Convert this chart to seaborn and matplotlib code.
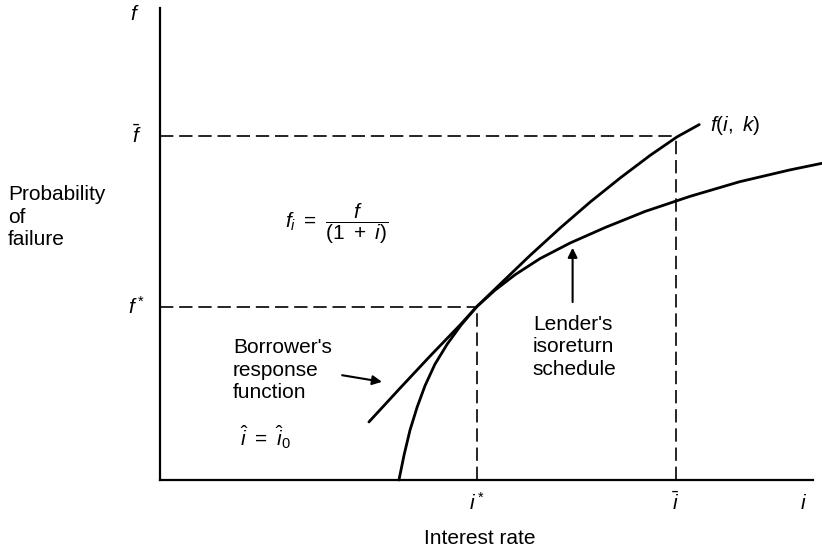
import matplotlib
matplotlib.use("Agg")
import matplotlib.pyplot as plt
import seaborn as sns
import pandas as pd

# ----------------------------
# Data (abstract units 0-10)
# ----------------------------
i_star = 4.85
i_bar = 7.90
f_star = 3.67
f_bar = 7.29

# Borrower's response function f(i, k)
borrower_i = [3.20, 3.68, 4.14, 4.60, 4.85, 5.21, 5.67, 6.13, 6.59, 7.05, 7.51, 7.92, 8.26]
borrower_f = [1.23, 1.95, 2.63, 3.29, 3.67, 4.15, 4.76, 5.34, 5.89, 6.40, 6.88, 7.27, 7.53]

# Lender's isoreturn schedule
lender_i = [3.66, 3.74, 3.83, 3.94, 4.06, 4.21, 4.40, 4.61, 4.85, 5.13,
            5.44, 5.82, 6.28, 6.82, 7.43, 8.12, 8.88, 9.65, 10.14]
lender_f = [0.00, 0.54, 1.06, 1.55, 2.00, 2.45, 2.88, 3.28, 3.67, 4.02,
            4.35, 4.69, 5.02, 5.35, 5.69, 6.01, 6.32, 6.57, 6.71]

borrower = pd.DataFrame({"i": borrower_i, "f": borrower_f})
lender = pd.DataFrame({"i": lender_i, "f": lender_f})

# ----------------------------
# Style
# ----------------------------
sns.set_style("white")
plt.rcParams["font.family"] = ["Liberation Sans", "DejaVu Sans"]
plt.rcParams["text.color"] = "black"
plt.rcParams["mathtext.fontset"] = "custom"
plt.rcParams["mathtext.rm"] = "Liberation Sans"
plt.rcParams["mathtext.it"] = "Liberation Sans:italic"

fig = plt.figure(figsize=(8.22, 5.48), dpi=100)
ax = fig.add_axes([160 / 822, 68 / 548, 662 / 822, 472 / 548])
ax.set_xlim(0, 10.14)
ax.set_ylim(0, 10)

# curves
sns.lineplot(data=borrower, x="i", y="f", color="black", lw=2.0, ax=ax,
             estimator=None, sort=False, clip_on=False)
sns.lineplot(data=lender, x="i", y="f", color="black", lw=2.0, ax=ax,
             estimator=None, sort=False, clip_on=False)

# dashed guide lines
dash = (0, (8, 3.5))
ax.plot([0, i_bar], [f_bar, f_bar], color="black", lw=1.2, ls=dash)
ax.plot([i_bar, i_bar], [0, f_bar], color="black", lw=1.2, ls=dash)
ax.plot([0, i_star], [f_star, f_star], color="black", lw=1.2, ls=dash)
ax.plot([i_star, i_star], [0, f_star], color="black", lw=1.2, ls=dash)

# axes look
sns.despine(ax=ax)
ax.spines["bottom"].set_bounds(0, 10)
for s in ["left", "bottom"]:
    ax.spines[s].set_linewidth(1.6)
    ax.spines[s].set_color("black")
ax.set_xticks([])
ax.set_yticks([])
ax.set_xlabel("")
ax.set_ylabel("")

fs = 15
# axis symbols
ax.text(-0.38, 9.87, r"$f$", fontsize=fs, ha="center", va="center")
ax.text(-0.36, f_bar, r"$\bar{f}$", fontsize=fs, ha="center", va="center")
ax.text(-0.36, f_star, r"$f^*$", fontsize=fs, ha="center", va="center")
ax.text(i_star, -0.49, r"$i^*$", fontsize=fs, ha="center", va="center")
ax.text(i_bar, -0.47, r"$\bar{i}$", fontsize=fs, ha="center", va="center")
ax.text(9.85, -0.49, r"$i$", fontsize=fs, ha="center", va="center")

ax.text(4.9, -1.25, "Interest rate", fontsize=fs, ha="center", va="center")
ax.text(-2.33, 6.25, "Probability\nof\nfailure", fontsize=fs, ha="left",
        va="top", linespacing=1.24)

ax.text(8.42, 7.52, r"$f(i,\ k)$", fontsize=fs, ha="left", va="center")
ax.text(1.91, 5.42, r"$f_i\ =\ \dfrac{f}{(1\ +\ i)}$", fontsize=fs,
        ha="left", va="center")

ax.text(5.71, 3.50, "Lender's\nisoreturn\nschedule", fontsize=fs,
        ha="left", va="top", linespacing=1.24)
ax.text(1.12, 3.01, "Borrower's\nresponse\nfunction", fontsize=fs,
        ha="left", va="top", linespacing=1.24)
ax.text(1.23, 0.91, r"$\hat{i}\ =\ \hat{i}_0$", fontsize=fs, ha="left",
        va="center")

# arrows
arrow = dict(arrowstyle="-|>", color="black", lw=1.5, mutation_scale=14,
             shrinkA=0, shrinkB=0)
ax.annotate("", xy=(3.40, 2.08), xytext=(2.79, 2.22), arrowprops=arrow)
ax.annotate("", xy=(6.32, 4.92), xytext=(6.32, 3.77), arrowprops=arrow)

fig.savefig("out.png", dpi=100)
